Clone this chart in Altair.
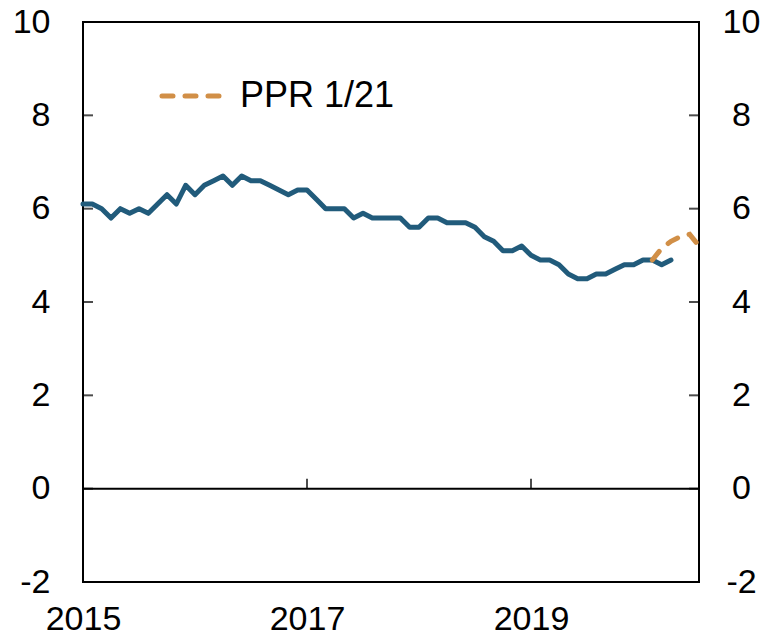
import altair as alt
import pandas as pd

# ---- data ----
blue_vals = [6.1, 6.1, 6.0, 5.8, 6.0, 5.9, 6.0, 5.9, 6.1, 6.3, 6.1, 6.5,
             6.3, 6.5, 6.6, 6.7, 6.5, 6.7, 6.6, 6.6, 6.5, 6.4, 6.3, 6.4,
             6.4, 6.2, 6.0, 6.0, 6.0, 5.8, 5.9, 5.8, 5.8, 5.8, 5.8, 5.6,
             5.6, 5.8, 5.8, 5.7, 5.7, 5.7, 5.6, 5.4, 5.3, 5.1, 5.1, 5.2,
             5.0, 4.9, 4.9, 4.8, 4.6, 4.5, 4.5, 4.6, 4.6, 4.7, 4.8, 4.8,
             4.9, 4.9, 4.8, 4.9]
blue_months = [f"{2015 + i // 12}-{i % 12 + 1:02d}" for i in range(len(blue_vals))]

ppr_months = ["2020-02", "2020-03", "2020-04", "2020-05", "2020-06", "2020-07"]
ppr_vals = [4.9, 5.15, 5.3, 5.4, 5.45, 5.2]

legend_label = "PPR 1/21"
y_ticks = [-2, 0, 2, 4, 6, 8, 10]
x_ticks = [2015, 2017, 2019]
x_minor_ticks = [2017, 2019]
x_domain = [2015, 2020.5]
y_domain = [-2, 10]

BLUE = "#215b7b"
ORANGE = "#d18f47"
FONT = "Liberation Sans"
FS = 34


def dec_year(s):
    y, m = s.split("-")
    return int(y) + (int(m) - 1) / 12


blue_df = pd.DataFrame({"t": [dec_year(s) for s in blue_months], "v": blue_vals})
ppr_df = pd.DataFrame({"t": [dec_year(s) for s in ppr_months], "v": ppr_vals})
yt_df = pd.DataFrame({"v": y_ticks})
xt_df = pd.DataFrame({"t": x_minor_ticks})
one = pd.DataFrame({"a": [0]})

xs = alt.Scale(domain=x_domain, nice=False, zero=False)
ys = alt.Scale(domain=y_domain, nice=False, zero=False)

x_axis = alt.Axis(values=x_ticks, format="d", labelFlush=False, labelOverlap=False,
                  labelPadding=20, labelBaseline="top", title=None)
y_left = alt.Axis(orient="left", values=y_ticks, labelPadding=33, title=None,
                  labelExpr="datum.value + ''")
y_right = alt.Axis(orient="right", values=y_ticks, labelAlign="center",
                   labelPadding=42, title=None, labelExpr="datum.value + ''")

X = alt.X("t:Q", scale=xs, axis=x_axis)

zero_line = alt.Chart(one).mark_rule(color="black", strokeWidth=2).encode(
    y=alt.Y(datum=0, scale=ys, axis=y_left)
)

left_ticks = alt.Chart(yt_df).mark_tick(
    orient="horizontal", size=10, thickness=2, color="black", xOffset=5
).encode(y=alt.Y("v:Q", scale=ys, axis=y_left), x=alt.value(0))

x_tick_marks = alt.Chart(xt_df).mark_tick(
    orient="vertical", size=10, thickness=2, color="black", yOffset=-5
).encode(x=X, y=alt.Y(datum=0, scale=ys, axis=y_left))

blue_line = alt.Chart(blue_df).mark_line(
    color=BLUE, strokeWidth=5, strokeJoin="round", strokeCap="round"
).encode(x=X, y=alt.Y("v:Q", scale=ys, axis=y_left))

ppr_line = alt.Chart(ppr_df).mark_line(
    color=ORANGE, strokeWidth=5, strokeDash=[11, 12], strokeCap="round", clip=True
).encode(x=X, y=alt.Y("v:Q", scale=ys, axis=y_left))

legend_line = alt.Chart(one).mark_rule(
    color=ORANGE, strokeWidth=5, strokeDash=[11, 12], strokeCap="round"
).encode(x=alt.value(79), x2=alt.value(145), y=alt.value(74))

legend_text = alt.Chart(one).mark_text(
    align="left", baseline="middle", fontSize=36, font=FONT, color="black"
).encode(x=alt.value(157), y=alt.value(74), text=alt.value(legend_label))

left_group = alt.layer(zero_line, left_ticks, x_tick_marks, blue_line, ppr_line,
                       legend_line, legend_text)

right_group = alt.Chart(yt_df).mark_tick(
    orient="horizontal", size=10, thickness=2, color="black", xOffset=-5
).encode(y=alt.Y("v:Q", scale=ys, axis=y_right), x=alt.value(616))

chart = alt.layer(left_group, right_group).resolve_scale(y="independent").properties(
    width=616, height=560,
    autosize=alt.AutoSizeParams(type="none"),
    padding={"left": 75, "top": 14, "right": 61, "bottom": 53},
).configure_view(stroke="black", strokeWidth=2).configure_axis(
    grid=False, domain=False, ticks=False, labelFont=FONT, labelFontSize=FS,
    labelColor="black"
)

chart.save("out.html", embed_options={"renderer": "svg", "actions": False})
